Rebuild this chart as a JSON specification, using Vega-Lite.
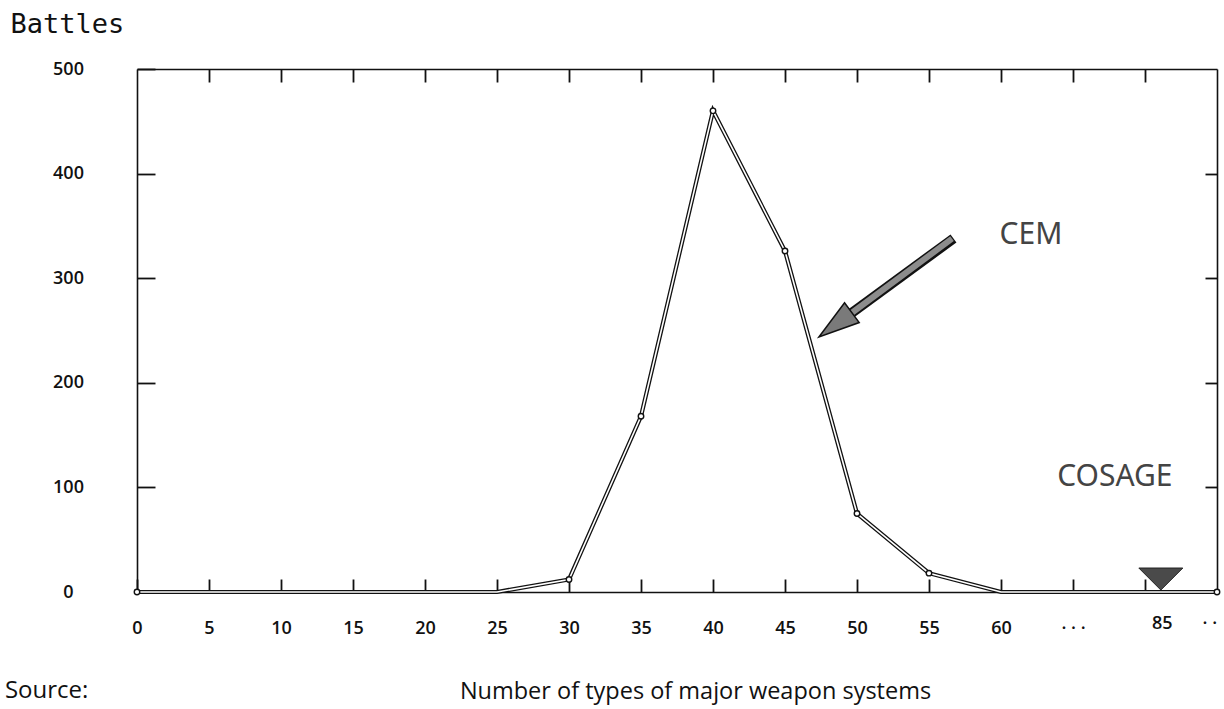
{
  "$schema": "https://vega.github.io/schema/vega-lite/v6.json",
  "width": 1080,
  "height": 523,
  "autosize": {"type": "none"},
  "padding": {"left": 137, "top": 69, "right": 7, "bottom": 117},
  "background": "white",
  "config": {
    "view": {"stroke": null},
    "axis": {"grid": false, "domainColor": "#111", "tickColor": "#111", "domainWidth": 1.6, "tickWidth": 1.8, "labelColor": "#111", "titleColor": "#111"}
  },
  "datasets": {
    "series": [
      {"x": 0, "battles": 0}, {"x": 5, "battles": 0}, {"x": 10, "battles": 0}, {"x": 15, "battles": 0},
      {"x": 20, "battles": 0}, {"x": 25, "battles": 0}, {"x": 30, "battles": 12}, {"x": 35, "battles": 168},
      {"x": 40, "battles": 460}, {"x": 45, "battles": 326}, {"x": 50, "battles": 75}, {"x": 55, "battles": 18},
      {"x": 60, "battles": 0}, {"x": 65, "battles": 0}, {"x": 70, "battles": 0}, {"x": 75, "battles": 0}
    ]
  },
  "resolve": {"axis": {"x": "independent", "y": "independent"}},
  "layer": [
    {
      "data": {"name": "series"},
      "mark": {"type": "line", "color": "#111", "strokeWidth": 4.2},
      "encoding": {
        "x": {"field": "x", "type": "quantitative", "scale": {"domain": [0, 75], "nice": false, "zero": false},
          "axis": {"orient": "bottom", "values": [0, 5, 10, 15, 20, 25, 30, 35, 40, 45, 50, 55, 60, 65, 70],
            "tickSize": -13, "labelPadding": 40, "labelFont": "Open Sans", "labelFontSize": 18, "labelFontWeight": 600,
            "labelExpr": "datum.value == 65 ? '· · ·' : datum.value == 70 ? '' : datum.label",
            "title": "Number of types of major weapon systems", "titleFont": "Open Sans", "titleFontSize": 23.5, "titleFontWeight": "normal",
            "titleX": 558, "titleY": 106, "titleAlign": "center", "titleBaseline": "alphabetic", "labelFlush": false}},
        "y": {"field": "battles", "type": "quantitative", "scale": {"domain": [0, 500], "nice": false},
          "axis": {"orient": "left", "values": [0, 100, 200, 300, 400, 500], "tickSize": -18, "labelPadding": 87,
            "labelAlign": "center", "labelBaseline": "middle", "labelFont": "Open Sans", "labelFontSize": 18, "labelFontWeight": 600,
            "title": "Battles", "titleAngle": 0, "titleFont": "DejaVu Sans Mono", "titleFontSize": 27, "titleFontWeight": "normal",
            "titleX": -127, "titleY": -37, "titleAlign": "left", "titleBaseline": "alphabetic", "labelFlush": false}}
      }
    },
    {
      "data": {"name": "series"},
      "mark": {"type": "line", "color": "white", "strokeWidth": 1.6},
      "encoding": {
        "x": {"field": "x", "type": "quantitative", "scale": {"domain": [0, 75], "nice": false, "zero": false},
          "axis": {"orient": "top", "values": [5, 10, 15, 20, 25, 30, 35, 40, 45, 50, 55, 60, 65, 70], "tickSize": -13, "labels": false, "title": null}},
        "y": {"field": "battles", "type": "quantitative", "scale": {"domain": [0, 500], "nice": false},
          "axis": {"orient": "right", "values": [100, 200, 300, 400], "tickSize": -12, "labels": false, "title": null}}
      }
    },
    {
      "data": {"name": "series"},
      "transform": [{"filter": "datum.battles > 0 || datum.x == 0 || datum.x == 75"}],
      "mark": {"type": "point", "shape": "circle", "filled": true, "fill": "white", "stroke": "#111", "strokeWidth": 1.4, "size": 30, "opacity": 1},
      "encoding": {
        "x": {"field": "x", "type": "quantitative", "scale": {"domain": [0, 75], "nice": false, "zero": false}, "axis": null},
        "y": {"field": "battles", "type": "quantitative", "scale": {"domain": [0, 500], "nice": false}, "axis": null}
      }
    },
    {
      "data": {"values": [{"x": 56.7, "y": 338, "x2": 49.65, "y2": 267}]},
      "mark": {"type": "rule", "color": "#111", "strokeWidth": 10, "strokeCap": "butt"},
      "encoding": {
        "x": {"field": "x", "type": "quantitative", "scale": {"domain": [0, 75], "nice": false, "zero": false}, "axis": null},
        "y": {"field": "y", "type": "quantitative", "scale": {"domain": [0, 500], "nice": false}, "axis": null},
        "x2": {"field": "x2"},
        "y2": {"field": "y2"}
      }
    },
    {
      "data": {"values": [{"x": 56.6, "y": 337.8, "x2": 49.65, "y2": 267}]},
      "mark": {"type": "rule", "color": "#8c8c8c", "strokeWidth": 6, "strokeCap": "butt"},
      "encoding": {
        "x": {"field": "x", "type": "quantitative", "scale": {"domain": [0, 75], "nice": false, "zero": false}, "axis": null},
        "y": {"field": "y", "type": "quantitative", "scale": {"domain": [0, 500], "nice": false}, "axis": null},
        "x2": {"field": "x2"},
        "y2": {"field": "y2"}
      }
    },
    {
      "data": {"values": [{"x": 48.5, "y": 255.4}]},
      "mark": {"type": "point", "shape": "M0,-1L0.6,1L-0.6,1Z", "size": 1681, "angle": 233.5, "filled": true, "fill": "#7a7a7a", "stroke": "#111", "strokeWidth": 1.5, "opacity": 1},
      "encoding": {
        "x": {"field": "x", "type": "quantitative", "scale": {"domain": [0, 75], "nice": false, "zero": false}, "axis": null},
        "y": {"field": "y", "type": "quantitative", "scale": {"domain": [0, 500], "nice": false}, "axis": null}
      }
    },
    {
      "data": {"values": [{"x": 71.1, "y": 12.4}]},
      "mark": {"type": "point", "shape": "M-1,-0.5L1,-0.5L0,0.5Z", "size": 1936, "filled": true, "fill": "#4a4a4a", "stroke": "#222", "strokeWidth": 1, "opacity": 1},
      "encoding": {
        "x": {"field": "x", "type": "quantitative", "scale": {"domain": [0, 75], "nice": false, "zero": false}, "axis": null},
        "y": {"field": "y", "type": "quantitative", "scale": {"domain": [0, 500], "nice": false}, "axis": null}
      }
    },
    {
      "data": {"values": [{"x": 59.9, "y": 341, "label": "CEM"}, {"x": 63.9, "y": 110, "label": "COSAGE"}]},
      "mark": {"type": "text", "align": "left", "baseline": "middle", "font": "Noto Sans", "fontSize": 30, "color": "#444"},
      "encoding": {
        "x": {"field": "x", "type": "quantitative", "scale": {"domain": [0, 75], "nice": false, "zero": false}, "axis": null},
        "y": {"field": "y", "type": "quantitative", "scale": {"domain": [0, 500], "nice": false}, "axis": null},
        "text": {"field": "label"}
      }
    },
    {
      "data": {"values": [{"x": 71.2, "y": -31, "label": "85"}, {"x": 74.5, "y": -31, "label": "· ·"}]},
      "mark": {"type": "text", "align": "center", "baseline": "middle", "font": "Open Sans", "fontSize": 18, "fontWeight": 600, "color": "#111"},
      "encoding": {
        "x": {"field": "x", "type": "quantitative", "scale": {"domain": [0, 75], "nice": false, "zero": false}, "axis": null},
        "y": {"field": "y", "type": "quantitative", "scale": {"domain": [0, 500], "nice": false}, "axis": null},
        "text": {"field": "label"}
      }
    },
    {
      "data": {"values": [{"x": -9.17, "y": -101, "label": "Source:"}]},
      "mark": {"type": "text", "align": "left", "baseline": "alphabetic", "font": "Open Sans", "fontSize": 24, "color": "#111"},
      "encoding": {
        "x": {"field": "x", "type": "quantitative", "scale": {"domain": [0, 75], "nice": false, "zero": false}, "axis": null},
        "y": {"field": "y", "type": "quantitative", "scale": {"domain": [0, 500], "nice": false}, "axis": null},
        "text": {"field": "label"}
      }
    }
  ]
}
